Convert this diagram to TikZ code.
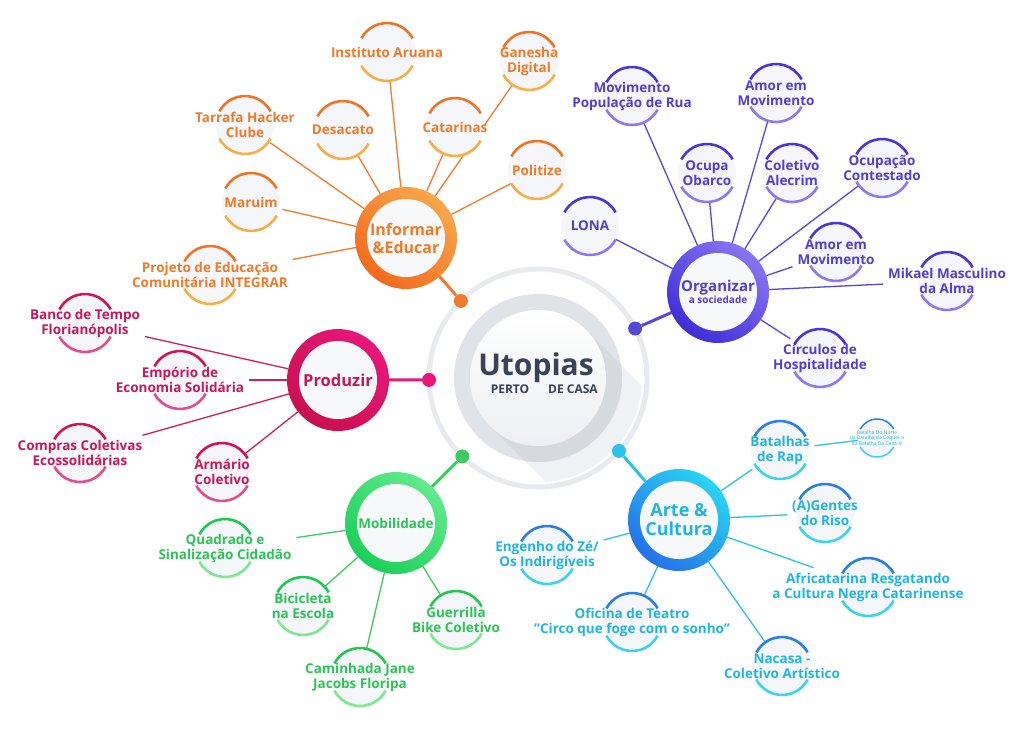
\documentclass[tikz,border=0pt]{standalone}
\usepackage{fontspec}
\setmainfont{Open Sans}
\usetikzlibrary{calc}
\pgfdeclarelayer{back}
\pgfdeclarelayer{bg}
\pgfsetlayers{back,bg,main}
% group colours: T text, A top arc, B bottom arc, L lines, H1/H2 hub shading
\definecolor{orT}{HTML}{EF7A28}\definecolor{orA}{HTML}{F07424}\definecolor{orB}{HTML}{F6AE45}\definecolor{orL}{HTML}{F07B2E}
\definecolor{orH1}{HTML}{F9A64A}\definecolor{orH2}{HTML}{F26A1E}
\definecolor{puT}{HTML}{4F3FD4}\definecolor{puA}{HTML}{4A35DA}\definecolor{puB}{HTML}{8E78F2}\definecolor{puL}{HTML}{5648D6}
\definecolor{puH1}{HTML}{8A74F4}\definecolor{puH2}{HTML}{3E2ED6}
\definecolor{mgT}{HTML}{C8175A}\definecolor{mgA}{HTML}{D3125A}\definecolor{mgB}{HTML}{E84A8E}\definecolor{mgL}{HTML}{CC1F5C}
\definecolor{mgH1}{HTML}{E8177A}\definecolor{mgH2}{HTML}{C8104E}
\definecolor{grT}{HTML}{2CC456}\definecolor{grA}{HTML}{21C653}\definecolor{grB}{HTML}{7CE890}\definecolor{grL}{HTML}{3DCB60}
\definecolor{grH1}{HTML}{62EA8C}\definecolor{grH2}{HTML}{1BCF58}
\definecolor{cyT}{HTML}{1FB5E0}\definecolor{cyA}{HTML}{2A7FE6}\definecolor{cyB}{HTML}{3CD3F0}\definecolor{cyL}{HTML}{2BC3EA}
\definecolor{cyH1}{HTML}{2AD4F2}\definecolor{cyH2}{HTML}{2670E8}
\definecolor{leaffill}{HTML}{F5F6F9}
\definecolor{ringgray}{HTML}{E8EAEE}
\definecolor{graydisk}{HTML}{E0E3E7}
\definecolor{shadowlt}{HTML}{F0F1F4}
\definecolor{shadowdk}{HTML}{D6D9DE}
\definecolor{diskbot}{HTML}{EEEFF2}
\definecolor{hubin}{HTML}{F7F8FA}
\definecolor{slate}{HTML}{3B4256}
\tikzset{
  leafnode/.style={circle, minimum size=#1, inner sep=0pt, outer sep=0pt, fill=leaffill},
  ltext/.style={text=#1, font=\bfseries\fontsize{13.5}{15}\selectfont, align=center, inner sep=0pt, outer sep=5pt},
  leafarc/.style={line width=2.6pt},
  link/.style={draw=#1, line width=1.3pt},
  spoke/.style={draw=#1, line width=3pt},
  hubnode/.style 2 args={circle, minimum size=102pt, inner sep=0pt, outer sep=0pt,
    top color=#1, bottom color=#2, shading angle=-40, align=center,
    path picture={\fill[hubin] (path picture bounding box.center) circle (39pt);}},
  dotnode/.style={circle, minimum size=14pt, inner sep=0pt, fill=#1},
}
% \leaf[radius]{name}{position}{text}{group}
\newcommand\leaf[5][29pt]{%
  \node[leafnode={2*#1}] (#2) at (#3) {};
  \draw[#5A, leafarc] (#2.28) arc[start angle=28, end angle=152, radius=#1];
  \draw[#5B, leafarc] (#2.208) arc[start angle=208, end angle=332, radius=#1];
  \node[ltext=#5T] (#2-t) at (#2.center) {#4};
}
\begin{document}
\begin{tikzpicture}[x=1pt,y=-1pt]
\begin{pgfonlayer}{back}
\fill[white] (0,0) rectangle (1024,729);
\end{pgfonlayer}
\useasboundingbox (0,0) rectangle (1024,729);

% ---------- centre ----------
\coordinate (C) at (538,378);
\node[circle, draw=ringgray, line width=5pt, minimum size=218pt, inner sep=0pt] (ring) at (C) {};
\begin{scope}
  \clip (C) circle (104pt);
  \fill[shadowlt] ($(C)+(45:68pt)$) -- ($(C)+(225:68pt)$) -- ++(-45:200pt) -- ($(C)+(45:68pt)+(-45:200pt)$) -- cycle;
\end{scope}
\fill[graydisk] (C) circle (84pt);
\begin{scope}
  \clip (C) circle (84pt);
  \fill[shadowdk] ($(C)+(45:68pt)$) -- ($(C)+(225:68pt)$) -- ++(-45:200pt) -- ($(C)+(45:68pt)+(-45:200pt)$) -- cycle;
\end{scope}
\node[circle, minimum size=136pt, inner sep=0pt, top color=white, bottom color=diskbot] (core) at (C) {};
\node[text=slate, font=\bfseries\fontsize{30}{30}\selectfont, inner sep=0pt] (ut) at (536,368) {Utopias};
\node[text=slate, font=\bfseries\fontsize{12}{13}\selectfont, inner sep=0pt] (perto) at (510,389) {PERTO};
\node[text=slate, font=\bfseries\fontsize{12}{13}\selectfont, inner sep=0pt] (casa) at (573,389) {DE CASA};

% dots on the ring
\node[dotnode=orL] (dor) at ($(C)+(135:109pt)$) {};
\node[dotnode=puL] (dpu) at ($(C)+(27:109pt)$) {};
\node[dotnode=mgH1] (dmg) at ($(C)+(181:109pt)$) {};
\node[dotnode=grL] (dgr) at ($(C)+(226:109pt)$) {};
\node[dotnode=cyL] (dcy) at ($(C)+(-42:109pt)$) {};

% ---------- hubs ----------
\node[hubnode={orH1}{orH2}, text=orT, font=\bfseries\fontsize{16}{18}\selectfont] (inf) at (406,238) {Informar\\\&Educar};
\node[hubnode={puH1}{puH2}, text=puT, font=\bfseries] (org) at (718,292) {{\fontsize{15}{16}\selectfont Organizar}\\{\fontsize{10}{12}\selectfont a sociedade}};
\node[hubnode={mgH1}{mgH2}, text=mgT, font=\bfseries\fontsize{16.5}{18}\selectfont] (pro) at (338,380) {Produzir};
\node[hubnode={grH1}{grH2}, text=grT, font=\bfseries\fontsize{13.5}{15}\selectfont] (mob) at (396,523) {Mobilidade};
\node[hubnode={cyH1}{cyH2}, text=cyT, font=\bfseries\fontsize{18}{19}\selectfont] (art) at (679,520) {Arte \&\\Cultura};

% ---------- leaves: Informar & Educar ----------
\leaf{ia}{387,52}{Instituto Aruana}{or}
\leaf{gd}{529,61}{Ganesha\\Digital}{or}
\leaf{th}{245,125}{Tarrafa Hacker\\Clube}{or}
\leaf{de}{343,130}{Desacato}{or}
\leaf{ca}{455,127}{Catarinas}{or}
\leaf{po}{537,170}{Politize}{or}
\leaf{ma}{251,202}{Maruim}{or}
\leaf{pe}{210,275}{Projeto de Educação\\Comunitária INTEGRAR}{or}

% ---------- leaves: Organizar ----------
\leaf{mp}{632,96}{Movimento\\População de Rua}{pu}
\leaf{ama}{776,93}{Amor em\\Movimento}{pu}
\leaf{oo}{707,173}{Ocupa\\Obarco}{pu}
\leaf{cal}{792,173}{Coletivo\\Alecrim}{pu}
\leaf{oc}{882,168}{Ocupação\\Contestado}{pu}
\leaf{lo}{590,226}{LONA}{pu}
\leaf{amb}{836,252}{Amor em\\Movimento}{pu}
\leaf{mk}{947,281}{Mikael Masculino\\da Alma}{pu}
\leaf{ch}{820,358}{Círculos de\\Hospitalidade}{pu}

% ---------- leaves: Produzir ----------
\leaf{bt}{85,323}{Banco de Tempo\\Florianópolis}{mg}
\leaf{em}{180,380}{Empório de\\Economia Solidária}{mg}
\leaf{cc}{80,453}{Compras Coletivas\\Ecossolidárias}{mg}
\leaf{ar}{222,472}{Armário\\Coletivo}{mg}

% ---------- leaves: Mobilidade ----------
\leaf{qs}{225,548}{Quadrado e\\Sinalização Cidadão}{gr}
\leaf{be}{303,606}{Bicicleta\\na Escola}{gr}
\leaf{gb}{456,620}{Guerrilla\\Bike Coletivo}{gr}
\leaf{cj}{360,677}{Caminhada Jane\\Jacobs Floripa}{gr}

% ---------- leaves: Arte & Cultura ----------
\leaf{br}{780,450}{Batalhas\\de Rap}{cy}
\node[leafnode=38pt] (bn) at (877,438) {};
\draw[cyA, line width=1.5pt] (bn.28) arc[start angle=28, end angle=152, radius=19pt];
\draw[cyB, line width=1.5pt] (bn.208) arc[start angle=208, end angle=332, radius=19pt];
\node[text=cyT, font=\fontsize{5}{4.3}\selectfont, align=center, inner sep=0pt] (bn-t) at (bn.center) {Batalha Do Norte\\da Batalha da Coqueira\\da Batalha Da Central};
\leaf{ag}{825,513}{(A)Gentes\\do Riso}{cy}
\leaf{af}{868,587}{Africatarina Resgatando\\a Cultura Negra Catarinense}{cy}
\leaf{na}{782,666}{Nacasa -\\Coletivo Artístico}{cy}
\leaf{ot}{632,622}{Oficina de Teatro\\"Circo que foge com o sonho"}{cy}
\leaf{ez}{547,555}{Engenho do Zé/\\Os Indirigíveis}{cy}

% ---------- connectors (behind; the leaf discs hide the part inside them) ----------
\begin{pgfonlayer}{bg}
  \draw[spoke=orL] (dor) -- (inf);
  \draw[spoke=puL] (dpu) -- (org);
  \draw[spoke=mgH1] (dmg) -- (pro);
  \draw[spoke=grL] (dgr) -- (mob);
  \draw[spoke=cyL] (dcy) -- (art);
  \foreach \n in {ia,gd,th,de,ca,po,ma,pe} \draw[link=orL] (inf) -- (\n-t);
  \foreach \n in {mp,ama,oo,cal,oc,lo,amb,mk,ch} \draw[link=puL] (org) -- (\n-t);
  \foreach \n in {bt,em,cc,ar} \draw[link=mgL] (pro) -- (\n-t);
  \foreach \n in {qs,be,gb,cj} \draw[link=grL] (mob) -- (\n-t);
  \foreach \n in {br,ag,af,na,ot,ez} \draw[link=cyL] (art) -- (\n-t);
  \draw[link=cyL] (br-t) -- (bn);
\end{pgfonlayer}
\end{tikzpicture}
\end{document}
